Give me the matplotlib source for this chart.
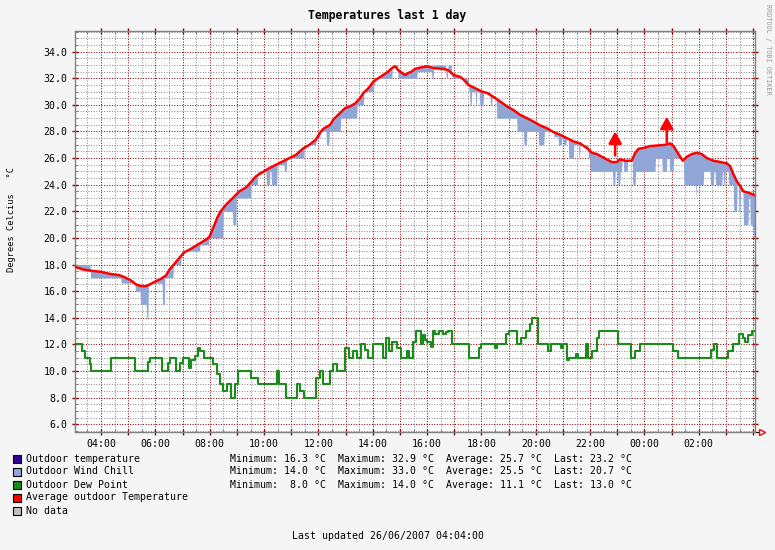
import matplotlib
matplotlib.use("Agg")
import matplotlib.pyplot as plt
import numpy as np
from matplotlib.patches import Rectangle
from matplotlib.ticker import MultipleLocator, FuncFormatter

# hours since 00:00 on the first day
avg_t = [3.03, 3.33, 3.57, 4.0, 4.31, 4.67, 4.86, 5.1, 5.29, 5.47, 5.66, 5.84, 6.02, 6.21,
         6.39, 6.52, 6.7, 6.88, 7.07, 7.31, 7.56, 7.87, 7.99, 8.11, 8.29, 8.42, 8.6, 8.85,
         9.09, 9.34, 9.52, 9.7, 9.95, 10.2, 10.44, 10.69, 10.93, 11.18, 11.42, 11.67, 11.91,
         12.06, 12.18, 12.43, 12.55, 12.8, 12.98, 13.17, 13.35, 13.53, 13.66, 13.84, 14.02,
         14.2, 14.39, 14.57, 14.7, 14.82, 14.94, 15.07, 15.19, 15.31, 15.43, 15.55, 15.74,
         15.99, 16.29, 16.6, 16.78, 16.97, 17.22, 17.34, 17.52, 17.77, 18.01, 18.2, 18.44,
         18.69, 18.93, 19.18, 19.42, 19.67, 19.91, 20.16, 20.4, 20.65, 20.9, 21.14, 21.39,
         21.63, 21.88, 22.06, 22.25, 22.43, 22.61, 22.8, 22.98, 23.1, 23.29, 23.53, 23.66,
         23.78, 23.96, 24.2, 24.51, 24.76, 24.94, 25.07, 25.19, 25.31, 25.41, 25.56, 25.74,
         25.93, 26.11, 26.29, 26.54, 26.79, 27.03, 27.15, 27.28, 27.4, 27.52, 27.64, 27.83,
         28.01, 28.06]
avg_temp = [17.83, 17.63, 17.55, 17.45, 17.3, 17.2, 17.05, 16.8, 16.5, 16.38, 16.38, 16.55,
            16.75, 16.93, 17.18, 17.63, 18.05, 18.5, 18.93, 19.18, 19.5, 19.88, 20.08, 20.68,
            21.58, 22.05, 22.5, 23.0, 23.5, 23.8, 24.2, 24.63, 24.95, 25.25, 25.5, 25.75, 26.0,
            26.25, 26.7, 27.0, 27.4, 27.9, 28.2, 28.5, 28.9, 29.4, 29.75, 29.9, 30.1, 30.5,
            30.9, 31.25, 31.75, 32.0, 32.25, 32.5, 32.75, 32.9, 32.6, 32.4, 32.25, 32.4, 32.5,
            32.7, 32.8, 32.9, 32.75, 32.7, 32.6, 32.25, 32.1, 31.9, 31.5, 31.25, 31.0, 30.9,
            30.6, 30.25, 29.9, 29.6, 29.25, 29.0, 28.75, 28.45, 28.25, 27.95, 27.75, 27.5,
            27.25, 27.1, 26.75, 26.4, 26.3, 26.1, 25.9, 25.7, 25.7, 25.9, 25.8, 25.8, 26.4,
            26.7, 26.75, 26.9, 26.95, 27.0, 27.1, 26.9, 26.5, 26.1, 25.8, 26.1, 26.3, 26.4,
            26.3, 26.0, 25.8, 25.7, 25.6, 25.4, 24.75, 24.25, 23.9, 23.5, 23.4, 23.25, 23.2]

# wind chill, step changes (start time, value)
chill_t = [3.03, 3.6, 4.74, 5.26, 5.45, 5.67, 5.74, 6.25, 6.33, 6.66, 6.94, 7.64, 7.96, 8.48,
           8.85, 8.97, 9.52, 9.77, 10.07, 10.2, 10.26, 10.47, 10.75, 10.83, 11.48, 11.91,
           12.06, 12.28, 12.4, 12.82, 13.41, 13.66, 14.02, 14.09, 14.7, 14.91, 15.62, 16.17,
           16.23, 16.7, 16.76, 16.91, 17.52, 17.58, 17.64, 17.77, 17.83, 17.93, 18.07, 18.32,
           18.38, 18.56, 19.3, 19.55, 19.65, 20.1, 20.31, 20.65, 20.83, 20.96, 21.02, 21.12,
           21.2, 21.39, 21.57, 21.63, 21.94, 22.0, 22.83, 22.92, 23.01, 23.1, 23.17, 23.23,
           23.37, 23.57, 23.66, 24.39, 24.64, 24.82, 24.92, 25.07, 25.44, 25.87, 25.9, 26.17,
           26.42, 26.54, 26.6, 26.85, 26.91, 26.97, 27.09, 27.28, 27.4, 27.46, 27.52, 27.64,
           27.83, 27.89, 28.01, 28.06]
chill = [18.0, 17.0, 16.6, 16.0, 15.0, 14.0, 16.6, 15.0, 17.0, 18.0, 19.0, 19.5, 20.0, 22.0,
         21.0, 23.0, 24.0, 25.0, 24.0, 25.0, 24.0, 25.5, 25.0, 26.0, 27.0, 27.5,
         28.0, 27.0, 28.0, 29.0, 30.0, 31.0, 31.5, 32.0, 33.0, 32.0, 32.5, 32.0,
         33.0, 32.0, 33.0, 32.0, 31.0, 30.0, 31.0, 30.0, 31.0, 30.0, 31.0, 30.0,
         30.5, 29.0, 28.0, 27.0, 28.0, 27.0, 28.0, 27.6, 27.0, 27.6, 27.0, 27.5,
         26.0, 27.0, 26.0, 27.0, 26.0, 25.0, 24.0, 25.0, 24.0, 25.0, 25.8, 25.0,
         25.8, 24.0, 25.0, 26.0, 25.0, 26.0, 25.0, 26.0, 24.0, 23.0, 24.0, 25.0,
         24.0, 25.0, 24.0, 25.0, 24.0, 25.0, 24.0, 22.0, 24.0, 22.0, 23.5, 21.0,
         23.0, 21.0, 20.0, 20.7]

# dew point, step changes (start time, value)
dew_t = [3.03, 3.05, 3.3, 3.39, 3.6, 3.63, 4.37, 5.25, 5.72, 5.8, 6.25, 6.45, 6.55, 6.74,
         6.92, 7.0, 7.23, 7.31, 7.47, 7.56, 7.64, 7.8, 8.11, 8.26, 8.36, 8.5, 8.63, 8.79,
         8.93, 9.03, 9.52, 9.77, 10.47, 10.54, 10.81, 11.2, 11.33, 11.46, 11.91, 12.06,
         12.16, 12.43, 12.55, 12.67, 12.96, 13.12, 13.26, 13.41, 13.57, 13.73, 13.82, 14.02,
         14.39, 14.49, 14.61, 14.71, 14.88, 15.02, 15.25, 15.35, 15.47, 15.6, 15.76, 15.83,
         15.92, 16.01, 16.13, 16.2, 16.29, 16.45, 16.57, 16.69, 16.78, 16.9, 17.55, 17.92,
         17.97, 18.51, 18.58, 18.9, 19.02, 19.29, 19.45, 19.64, 19.79, 19.85, 20.09, 20.46,
         20.55, 20.91, 21.01, 21.13, 21.23, 21.48, 21.56, 21.85, 21.93, 22.06, 22.24, 22.34,
         23.04, 23.5, 23.65, 23.83, 25.06, 25.25, 26.44, 26.56, 26.68, 27.09, 27.27, 27.49,
         27.61, 27.7, 27.82, 27.94, 28.06]
dew = [11.6, 12.0, 11.5, 11.0, 10.5, 10.0, 11.0, 10.0, 10.7, 11.0, 10.0, 10.6, 11.0, 10.0,
       10.6, 11.0, 10.2, 10.8, 11.1, 11.75, 11.5, 11.0, 10.5, 9.8, 9.0, 8.5, 9.0, 8.0,
       9.0, 10.0, 9.5, 9.0, 10.0, 9.0, 8.0, 9.0, 8.5, 8.0, 9.5, 10.0,
       9.0, 10.0, 10.5, 10.0, 11.7, 11.0, 11.5, 11.0, 12.0, 11.6, 11.0, 12.0,
       11.0, 12.5, 11.5, 12.2, 11.7, 11.0, 11.5, 11.0, 12.2, 13.0, 12.0, 12.7,
       12.3, 12.2, 11.8, 13.0, 12.75, 13.0, 12.75, 12.9, 13.0, 12.0, 11.0, 11.75,
       12.0, 11.75, 12.0, 12.8, 13.0, 12.0, 12.5, 13.0, 13.5, 14.0, 12.0, 11.5,
       12.0, 11.75, 12.0, 10.8, 11.0, 11.25, 11.0, 12.0, 11.0, 11.5, 12.5, 13.0,
       12.0, 11.0, 11.5, 12.0, 11.5, 11.0, 11.6, 12.0, 11.0, 11.5, 12.0, 12.8,
       12.5, 12.2, 12.7, 13.0, 13.0]

# red markers
arrow_t = [22.92, 24.82]
arrow_from = [26.2, 27.2]
arrow_to = [28.0, 29.1]

legend_names = ["Outdoor temperature", "Outdoor Wind Chill", "Outdoor Dew Point",
                "Average outdoor Temperature", "No data"]
legend_colors = ["#330099", "#8fa6d6", "#1a8c1a", "#ff0000", "#c0c0c0"]
stats = ["Minimum: 16.3 \u00b0C  Maximum: 32.9 \u00b0C  Average: 25.7 \u00b0C  Last: 23.2 \u00b0C",
         "Minimum: 14.0 \u00b0C  Maximum: 33.0 \u00b0C  Average: 25.5 \u00b0C  Last: 20.7 \u00b0C",
         "Minimum:  8.0 \u00b0C  Maximum: 14.0 \u00b0C  Average: 11.1 \u00b0C  Last: 13.0 \u00b0C"]

W, H = 775, 550
MONO = "DejaVu Sans Mono"
MAJ = "#8b0000"
MIN = "#8c8c8c"


def fx(x):
    return x / W


def fy(y):
    return 1 - y / H


fig = plt.figure(figsize=(W / 100, H / 100), dpi=100, facecolor="#f5f5f5")
ax = fig.add_axes([fx(75), fy(431.5), fx(680), 400.5 / H])
ax.set_facecolor("white")

# wind chill band up to the average line
grid_t = np.linspace(avg_t[0], avg_t[-1], 1200)
avg_i = np.interp(grid_t, avg_t, avg_temp)
idx = np.searchsorted(chill_t, grid_t, side="right") - 1
chill_i = np.array(chill)[np.clip(idx, 0, len(chill) - 1)]
ax.fill_between(grid_t, chill_i, avg_i, color="#8fa6d6", lw=0, zorder=2)

ax.step(dew_t, dew, where="post", color="#1a8c1a", lw=1.5, zorder=3)
ax.plot(avg_t, avg_temp, color="#ff0000", lw=1.8, zorder=4)

for t, a, b in zip(arrow_t, arrow_from, arrow_to):
    ax.annotate("", xy=(t, b), xytext=(t, a),
                arrowprops=dict(arrowstyle="-|>,head_width=0.28,head_length=0.5",
                                mutation_scale=14, color="#ff0000", lw=1.8,
                                shrinkA=0, shrinkB=0), zorder=5)

ax.set_xlim(3.04, 28.067)
ax.set_ylim(5.45, 35.55)

ax.xaxis.set_major_locator(MultipleLocator(1))
ax.xaxis.set_minor_locator(MultipleLocator(0.5))
ax.xaxis.set_major_formatter(FuncFormatter(
    lambda x, p: "%02d:00" % (int(round(x)) % 24) if int(round(x)) % 2 == 0 and x < 27.5 else ""))
ax.yaxis.set_major_locator(MultipleLocator(2))
ax.yaxis.set_minor_locator(MultipleLocator(0.5))
ax.yaxis.set_major_formatter(FuncFormatter(lambda y, p: "%.1f" % y))

ax.grid(which="minor", color=MIN, lw=0.72, ls=(0, (1, 1.6)))
ax.grid(which="major", color=MAJ, lw=0.72, ls=(0, (1, 1.6)))
ax.set_axisbelow(True)

ax.tick_params(which="both", top=True, right=True, labelsize=7.1, labelcolor="black")
ax.tick_params(which="major", color=MAJ, direction="inout", length=4.5, width=1)
ax.tick_params(which="minor", color=MIN, direction="in", length=2.2, width=0.8)
ax.tick_params(axis="y", which="major", pad=3)
ax.tick_params(axis="x", which="major", pad=3)
for lab in ax.get_xticklabels() + ax.get_yticklabels():
    lab.set_family(MONO)
for s in ax.spines.values():
    s.set_color("#808080")
    s.set_linewidth(1)

# arrow at the end of the time axis
ax.plot([1.0, 1.006], [0, 0], color="black", lw=0.8, transform=ax.transAxes, clip_on=False)
ax.plot([1.01], [0], marker=">", mfc="none", mec="#ff0000", ms=5, mew=1,
        transform=ax.transAxes, clip_on=False)

fig.text(0.5, fy(15), "Temperatures last 1 day", ha="center", va="center",
         family=MONO, fontsize=8.3, fontweight="bold")
fig.text(fx(12), fy(219), "Degrees Celcius   \u00b0C", rotation=90, ha="center", va="center",
         family=MONO, fontsize=6.2)
fig.text(fx(768), fy(49), "RRDTOOL / TOBI OETIKER", rotation=270, ha="center", va="center",
         family=MONO, fontsize=4.9, color="#999999")

rows = [458.5, 471.5, 484.5, 497.5, 510.5]
for y, name, col in zip(rows, legend_names, legend_colors):
    fig.add_artist(Rectangle((fx(12.5), fy(y + 4)), fx(8), 8 / H, facecolor=col,
                             edgecolor="black", lw=0.8, transform=fig.transFigure))
    fig.text(fx(26), fy(y), name, ha="left", va="center", family=MONO, fontsize=7.1)
for y, line in zip(rows, stats):
    fig.text(fx(230), fy(y), line, ha="left", va="center", family=MONO, fontsize=7.1)

fig.text(0.5, fy(536), "Last updated 26/06/2007 04:04:00", ha="center", va="center",
         family=MONO, fontsize=7.1)

fig.savefig("out.png", dpi=100, facecolor=fig.get_facecolor())
